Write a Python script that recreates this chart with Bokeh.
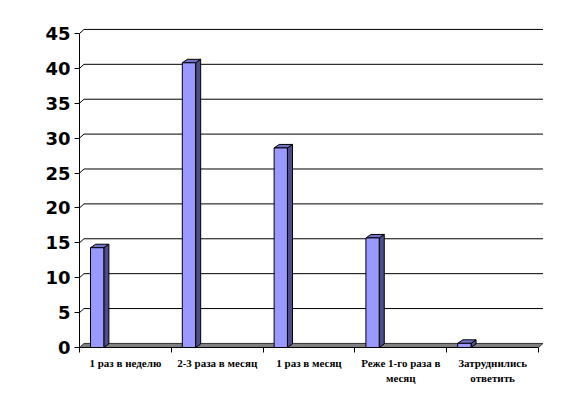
from bokeh.plotting import figure
from bokeh.models import Range1d, FixedTicker
from bokeh.embed import file_html
from bokeh.resources import INLINE

categories = ["1 раз в неделю", "2-3 раза в месяц", "1 раз в месяц",
              "Реже 1-го раза в\nмесяц", "Затруднились\nответить"]
values = [14.3, 40.8, 28.6, 15.7, 0.6]
y_ticks = [0, 5, 10, 15, 20, 25, 30, 35, 40, 45]

# 3D projection offsets (data units)
WALL_DX, WALL_DY = 0.049, 0.58
BAR_DX, BAR_DY = 0.055, 0.5
BAR_L, BAR_R = 0.12, 0.265

W, H = 567, 393
p = figure(width=W, height=H, output_backend="svg", toolbar_location=None,
           x_range=Range1d(0, 5.109), y_range=Range1d(0, 47.29),
           min_border_left=79, min_border_right=19, min_border_top=17,
           min_border_bottom=46)
p.outline_line_color = None
p.background_fill_color = "white"
p.border_fill_color = "white"
p.xgrid.visible = False
p.ygrid.visible = False

n = len(categories)

# floor
p.patch([0, n, n + WALL_DX, WALL_DX], [0, 0, WALL_DY, WALL_DY],
        fill_color="#808080", line_color="#333333", line_width=1)

# gridlines on back wall with diagonal from the front axis
gl = [v for v in y_ticks if v > 0]
p.segment(x0=[0] * len(gl), y0=gl, x1=[WALL_DX] * len(gl),
          y1=[v + WALL_DY for v in gl], line_color="black", line_width=1)
p.segment(x0=[WALL_DX] * len(gl), y0=[v + WALL_DY for v in gl],
          x1=[n + WALL_DX] * len(gl), y1=[v + WALL_DY for v in gl],
          line_color="black", line_width=1)

# bars
lefts = [i + BAR_L for i in range(n)]
rights = [i + BAR_R for i in range(n)]
side_xs = [[r, r + BAR_DX, r + BAR_DX, r] for r in rights]
side_ys = [[0, BAR_DY, v + BAR_DY, v] for v in values]
top_xs = [[l, r, r + BAR_DX, l + BAR_DX] for l, r in zip(lefts, rights)]
top_ys = [[v, v, v + BAR_DY, v + BAR_DY] for v in values]
p.patches(side_xs, side_ys, fill_color="#4d4d8c", line_color="black", line_width=1)
p.patches(top_xs, top_ys, fill_color="#7373cc", line_color="black", line_width=1)
p.quad(left=lefts, right=rights, bottom=[0] * n, top=values,
       fill_color="#9999ff", line_color="black", line_width=1)

# x axis
xa = p.xaxis[0]
xa.ticker = FixedTicker(ticks=[i + 0.5 for i in range(n)],
                        minor_ticks=list(range(n + 1)))
xa.major_label_overrides = {i + 0.5: c for i, c in enumerate(categories)}
xa.bounds = (0, n)
xa.major_tick_out = 0
xa.major_tick_in = 0
xa.minor_tick_out = 5
xa.minor_tick_in = 0
xa.major_label_standoff = 4
xa.major_label_text_font = "Liberation Serif"
xa.major_label_text_font_style = "bold"
xa.major_label_text_font_size = "11px"
xa.major_label_text_color = "black"
xa.axis_line_color = "black"
xa.major_label_text_line_height = 1.3

# y axis
ya = p.yaxis[0]
ya.ticker = FixedTicker(ticks=y_ticks)
ya.bounds = (0, 45)
ya.major_tick_out = 5
ya.major_tick_in = 0
ya.minor_tick_out = 0
ya.minor_tick_in = 0
ya.major_label_standoff = 4
ya.major_label_text_font = "DejaVu Sans"
ya.major_label_text_font_style = "bold"
ya.major_label_text_font_size = "18px"
ya.major_label_text_color = "black"
ya.axis_line_color = "black"

open("out.html", "w").write(file_html(p, INLINE))
